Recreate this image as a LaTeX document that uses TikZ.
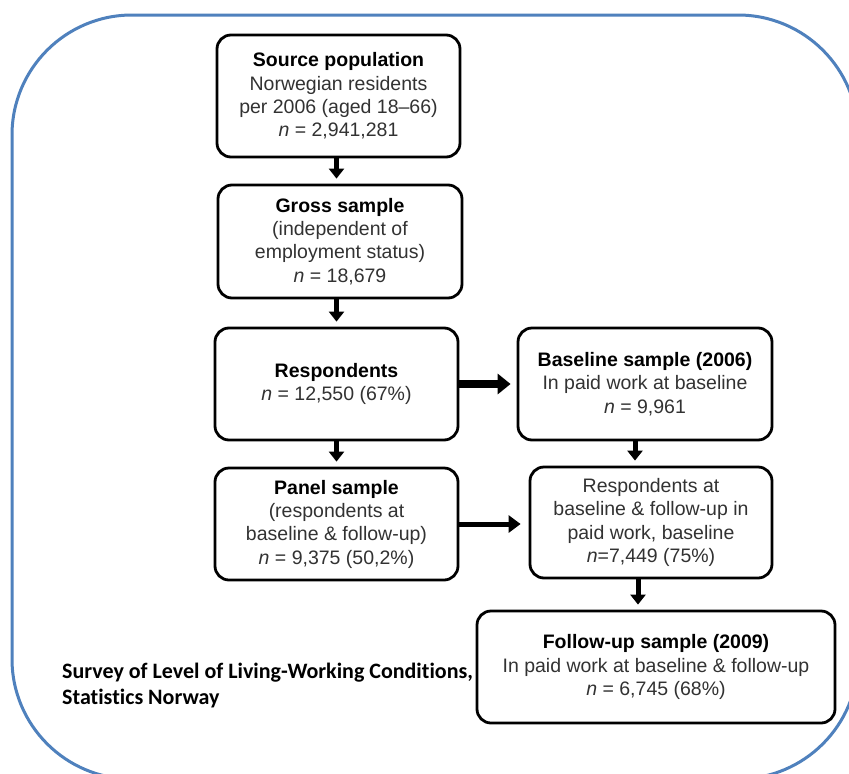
\documentclass[tikz,border=0pt]{standalone}
\usepackage{fontspec}
\setmainfont{Liberation Sans}
\newfontfamily\survfont[Ligatures=NoCommon]{Carlito}
\usetikzlibrary{arrows.meta}
\definecolor{frameblue}{RGB}{79,129,189}
\definecolor{txtgray}{RGB}{50,50,50}
\newcommand\hd[1]{{\color{black}\bfseries #1}}
\begin{document}
\begin{tikzpicture}[x=1pt,y=-1pt,
  box/.style={draw=black, line width=2.8pt, rounded corners=14pt, align=center,
    inner sep=0pt, font=\fontsize{19.5}{23.3}\selectfont, text=txtgray},
  varr/.style={line width=5pt, -{Triangle[width=15pt,length=10pt]}, shorten >=5pt},
  harrA/.style={line width=8pt, -{Triangle[width=20pt,length=13pt]}, shorten >=6pt},
  harrB/.style={line width=5pt, -{Triangle[width=17pt,length=12pt]}, shorten >=8pt},
  note/.style={font=\survfont\bfseries\fontsize{22}{26}\selectfont, align=left, inner sep=0pt, anchor=north west}]
\useasboundingbox (0,0) rectangle (849,774);
\clip (0,0) rectangle (849,774);
\fill[white] (0,0) rectangle (849,774);
\draw[frameblue, line width=3pt, rounded corners=120pt] (12,15) rectangle (858,779);

\node[box, minimum width=243pt, minimum height=122pt] (src) at (338.5,96)
  {\hd{Source population}\\Norwegian residents\\per 2006 (aged 18--66)\\\textit{n} = 2,941,281};
\node[box, minimum width=244pt, minimum height=113pt] (gross) at (340,241.5)
  {\hd{Gross sample}\\(independent of\\employment status)\\\textit{n} = 18,679};
\node[box, minimum width=243pt, minimum height=112pt] (resp) at (336.5,384)
  {\hd{Respondents}\\\textit{n} = 12,550 (67\%)};
\node[box, minimum width=254pt, minimum height=112pt] (base) at (645,384)
  {\hd{Baseline sample (2006)}\\In paid work at baseline\\\textit{n} = 9,961};
\node[box, minimum width=243pt, minimum height=112pt] (panel) at (336.5,524)
  {\hd{Panel sample}\\(respondents at\\baseline \& follow-up)\\\textit{n} = 9,375 (50,2\%)};
\node[box, minimum width=242pt, minimum height=111pt] (rab) at (651,522.5)
  {Respondents at\\baseline \& follow-up in\\paid work, baseline\\\textit{n}=7,449 (75\%)};
\node[box, minimum width=358pt, minimum height=112pt] (fu) at (656,667)
  {\hd{Follow-up sample (2009)}\\In paid work at baseline \& follow-up\\\textit{n} = 6,745 (68\%)};

\node[note] (survey) at (62,663) {Survey of Level of Living-Working Conditions,\\Statistics Norway};

\draw[varr] (src.south -| resp.center) -- (gross.north -| resp.center);
\draw[varr] (gross.south -| resp.center) -- (resp.north);
\draw[varr] (resp.south) -- (panel.north);
\draw[harrA] (resp.east) -- (base.west);
\draw[harrB] (panel.east) -- (panel.east -| rab.west);
\draw[varr] ([xshift=-10pt]base.south) -- ([xshift=-10pt]base.south |- rab.north);
\draw[varr] ([xshift=-13pt]rab.south) -- ([xshift=-13pt]rab.south |- fu.north);
\end{tikzpicture}
\end{document}
